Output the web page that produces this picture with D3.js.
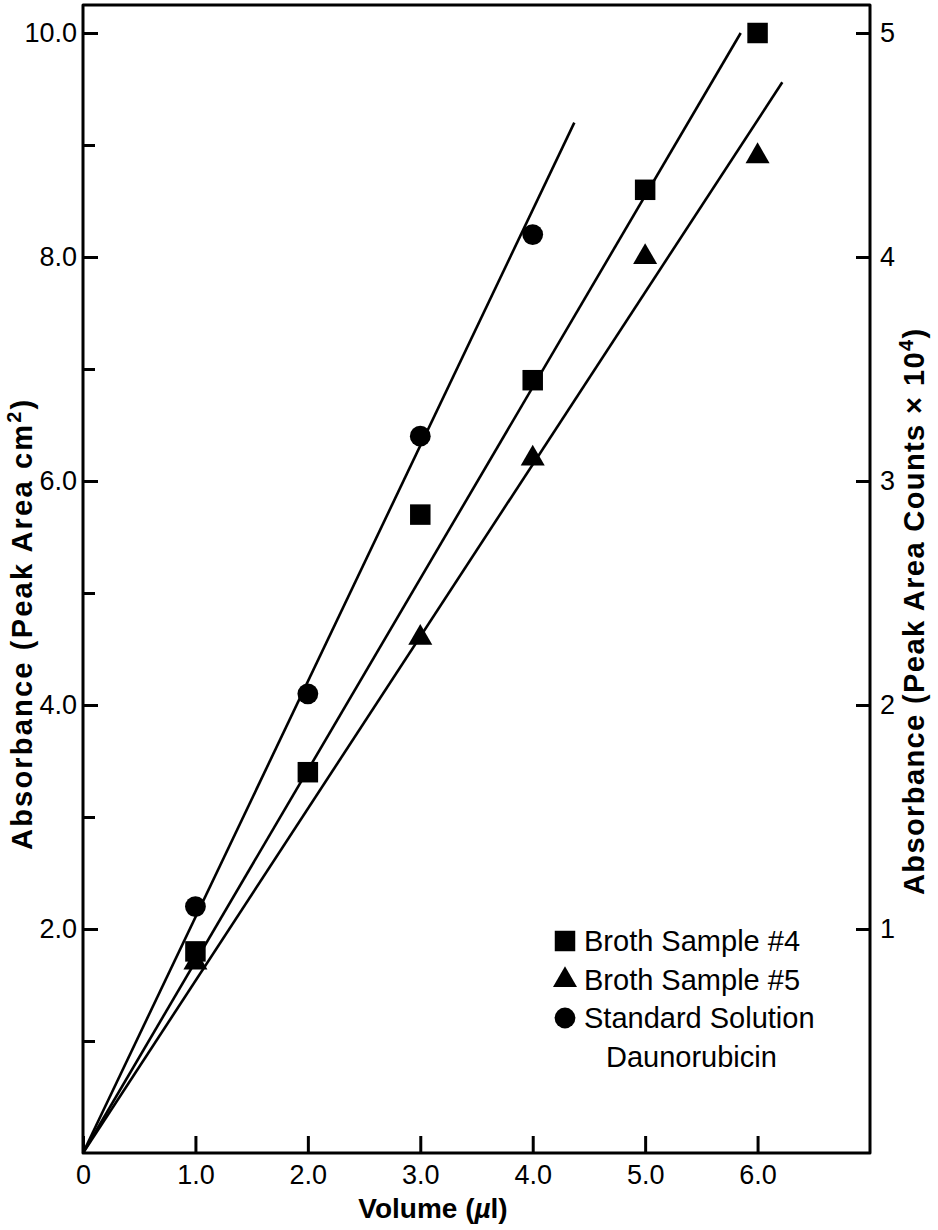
<!DOCTYPE html>
<html>
<head>
<meta charset="utf-8">
<script src="https://cdn.jsdelivr.net/npm/d3@7"></script>
<style>
  html, body { margin: 0; padding: 0; background: #fff; }
  svg { display: block; }
  text { font-family: "Liberation Sans", Arial, Helvetica, sans-serif; fill: #000; }
</style>
</head>
<body>
<svg id="chart" width="938" height="1230"></svg>
<script>
// ---- data ----
const xTickValues = [0, 1, 2, 3, 4, 5, 6];
const xTickLabels = ["0", "1.0", "2.0", "3.0", "4.0", "5.0", "6.0"];
const yLeftMajor = [2, 4, 6, 8, 10];
const yLeftMajorLabels = ["2.0", "4.0", "6.0", "8.0", "10.0"];
const yLeftMinor = [1, 3, 5, 7, 9];
const yRightTicks = [1, 2, 3, 4, 5];
const yRightLabels = ["1", "2", "3", "4", "5"];

const broth4Volume = [1, 2, 3, 4, 5, 6];
const broth4Abs = [1.8, 3.4, 5.7, 6.9, 8.6, 10.0];
const broth5Volume = [1, 3, 4, 5, 6];
const broth5Abs = [1.7, 4.6, 6.2, 8.0, 8.9];
const standardVolume = [1, 2, 3, 4];
const standardAbs = [2.2, 4.1, 6.4, 8.2];

// fitted lines (volume, absorbance) from origin to end of drawn line
const fitStandard = [[0, 0], [4.37, 9.2]];
const fitBroth4 = [[0, 0], [5.85, 10.0]];
const fitBroth5 = [[0, 0], [6.22, 9.56]];

const legendLabels = ["Broth Sample #4", "Broth Sample #5", "Standard Solution", "Daunorubicin"];

// ---- layout ----
const svg = d3.select("#chart");
const L = 83, R = 870, T = 5, B = 1153;
const x = d3.scaleLinear().domain([0, 7]).range([L, R]);
const y = d3.scaleLinear().domain([0, 10.25]).range([B, T]);
const yR = d3.scaleLinear().domain([0, 5.125]).range([B, T]);

const tickFont = 27;

// frame
svg.append("path")
  .attr("d", `M${L},${T}H${R}V${B}H${L}Z`)
  .attr("fill", "none").attr("stroke", "#000").attr("stroke-width", 3)
  .attr("stroke-linejoin", "round");

function styleAxis(g) {
  g.select(".domain").remove();
  g.selectAll(".tick line").attr("stroke", "#000").attr("stroke-width", 3);
  g.selectAll(".tick text").attr("font-size", tickFont).attr("font-family", null).attr("fill", "#000");
}

// bottom axis
svg.append("g").attr("transform", `translate(0,${B})`)
  .call(d3.axisBottom(x).tickValues(xTickValues)
    .tickFormat((d, i) => xTickLabels[i])
    .tickSizeInner(-17).tickSizeOuter(0).tickPadding(12))
  .call(styleAxis);

// left axis major
svg.append("g").attr("transform", `translate(${L},0)`)
  .call(d3.axisLeft(y).tickValues(yLeftMajor)
    .tickFormat((d, i) => yLeftMajorLabels[i])
    .tickSizeInner(-15).tickSizeOuter(0).tickPadding(6))
  .call(styleAxis);

// left axis minor
svg.append("g").attr("transform", `translate(${L},0)`)
  .call(d3.axisLeft(y).tickValues(yLeftMinor).tickFormat("")
    .tickSizeInner(-12).tickSizeOuter(0))
  .call(styleAxis);

// right axis
svg.append("g").attr("transform", `translate(${R},0)`)
  .call(d3.axisRight(yR).tickValues(yRightTicks)
    .tickFormat((d, i) => yRightLabels[i])
    .tickSizeInner(-14).tickSizeOuter(0).tickPadding(10))
  .call(styleAxis);

// fit lines
const line = d3.line().x(d => x(d[0])).y(d => y(d[1]));
[fitStandard, fitBroth4, fitBroth5].forEach(f => {
  svg.append("path").attr("d", line(f))
    .attr("fill", "none").attr("stroke", "#000").attr("stroke-width", 2.6);
});

// markers
const sq = d3.symbol().type(d3.symbolSquare).size(420);
const tri = d3.symbol().type(d3.symbolTriangle).size(250);
const circ = d3.symbol().type(d3.symbolCircle).size(340);

svg.append("g").selectAll("path").data(broth4Volume.map((v, i) => [v, broth4Abs[i]]))
  .join("path").attr("d", sq).attr("transform", d => `translate(${x(d[0])},${y(d[1])})`).attr("fill", "#000");
svg.append("g").selectAll("path").data(broth5Volume.map((v, i) => [v, broth5Abs[i]]))
  .join("path").attr("d", tri).attr("transform", d => `translate(${x(d[0])},${y(d[1])})`).attr("fill", "#000");
svg.append("g").selectAll("path").data(standardVolume.map((v, i) => [v, standardAbs[i]]))
  .join("path").attr("d", circ).attr("transform", d => `translate(${x(d[0])},${y(d[1])})`).attr("fill", "#000");

// legend
const lg = svg.append("g").attr("transform", "translate(565,0)");
const rowY = [941, 980, 1018, 1057];
const legSyms = [sq, tri, circ];
legSyms.forEach((s, i) => {
  lg.append("path").attr("d", s).attr("transform", `translate(0,${rowY[i]})`).attr("fill", "#000");
});
legendLabels.forEach((t, i) => {
  lg.append("text").attr("x", i === 3 ? 41 : 19).attr("y", rowY[i]).attr("dy", "0.36em")
    .attr("font-size", 29).text(t);
});

// axis titles
svg.append("text").attr("x", 433).attr("y", 1218).attr("text-anchor", "middle")
  .attr("font-size", 28).attr("font-weight", "bold")
  .call(t => {
    t.append("tspan").text("Volume (");
    t.append("tspan").attr("font-style", "italic").text("\u00b5");
    t.append("tspan").text("l)");
  });

svg.append("text").attr("transform", "translate(32,850) rotate(-90)").attr("text-anchor", "start")
  .attr("font-size", 29).attr("font-weight", "bold").attr("letter-spacing", 2.2)
  .call(t => {
    t.append("tspan").text("Absorbance (Peak Area cm");
    t.append("tspan").attr("font-size", 20).attr("dy", -11).text("2");
    t.append("tspan").attr("dy", 11).text(")");
  });

svg.append("text").attr("transform", "translate(924,895) rotate(-90)").attr("text-anchor", "start")
  .attr("font-size", 29).attr("font-weight", "bold").attr("letter-spacing", 1.4)
  .call(t => {
    t.append("tspan").text("Absorbance (Peak Area Counts \u00d7 10");
    t.append("tspan").attr("font-size", 20).attr("dy", -11).text("4");
    t.append("tspan").attr("dy", 11).text(")");
  });
</script>
</body>
</html>
